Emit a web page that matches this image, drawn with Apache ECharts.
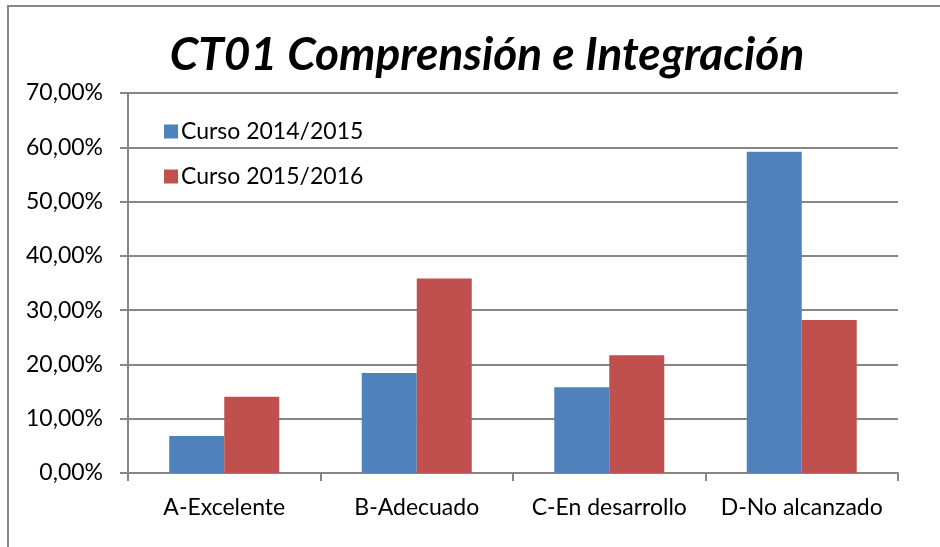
<!DOCTYPE html>
<html>
<head>
<meta charset="utf-8">
<script src="https://cdn.jsdelivr.net/npm/echarts@6/dist/echarts.min.js"></script>
<style>
  html, body { margin: 0; padding: 0; background: #fff; }
  #chart { width: 940px; height: 547px; }
</style>
</head>
<body>
<div id="chart"></div>
<script>
// datos
const categorias = ['A-Excelente', 'B-Adecuado', 'C-En desarrollo', 'D-No alcanzado'];
const curso1415 = [6.8, 18.4, 15.8, 59.2];
const curso1516 = [14.05, 35.85, 21.7, 28.2];
const nombres = ['Curso 2014/2015', 'Curso 2015/2016'];

const fuente = 'Lato, "Open Sans", sans-serif';
const gris = '#868686';

const chart = echarts.init(document.getElementById('chart'));

const option = {
  animation: false,
  title: {
    text: 'CT01 Comprensión e Integración',
    left: 482,
    textAlign: 'center',
    top: 27,
    textStyle: { fontFamily: fuente, fontSize: 46, fontWeight: 'bold', fontStyle: 'italic', color: '#000' }
  },
  graphic: [{
    type: 'rect',
    shape: { x: 8, y: 6, width: 1000, height: 700 },
    style: { fill: 'none', stroke: gris, lineWidth: 2 },
    silent: true
  }],
  legend: {
    orient: 'vertical',
    left: 159,
    top: 115,
    itemWidth: 14,
    itemHeight: 14,
    itemGap: 22,
    icon: 'rect',
    data: nombres,
    textStyle: { fontFamily: fuente, fontSize: 23, color: '#000', padding: [0, 0, 0, -2] }
  },
  grid: { left: 128, right: 42, top: 93, bottom: 74, containLabel: false },
  xAxis: {
    type: 'category',
    data: categorias,
    axisLine: { lineStyle: { color: gris, width: 2 } },
    axisTick: { show: true, length: 8, lineStyle: { color: gris, width: 2 } },
    axisLabel: { fontFamily: fuente, fontSize: 23, color: '#000', margin: 23, interval: 0, hideOverlap: false }
  },
  yAxis: {
    type: 'value',
    min: 0,
    max: 70,
    interval: 10,
    axisLine: { show: true, lineStyle: { color: gris, width: 2 } },
    axisTick: { show: true, length: 8, lineStyle: { color: gris, width: 2 } },
    splitLine: { lineStyle: { color: gris, width: 2 } },
    axisLabel: {
      fontFamily: fuente, fontSize: 23, color: '#000', margin: 25,
      formatter: v => v.toFixed(2).replace('.', ',') + '%'
    }
  },
  series: [
    {
      name: nombres[0],
      type: 'bar',
      data: curso1415,
      barWidth: 55,
      barGap: '0%',
      itemStyle: { color: '#4F81BD' }
    },
    {
      name: nombres[1],
      type: 'bar',
      data: curso1516,
      barWidth: 55,
      barGap: '0%',
      itemStyle: { color: '#C0504D' }
    }
  ]
};

chart.setOption(option);
</script>
</body>
</html>
